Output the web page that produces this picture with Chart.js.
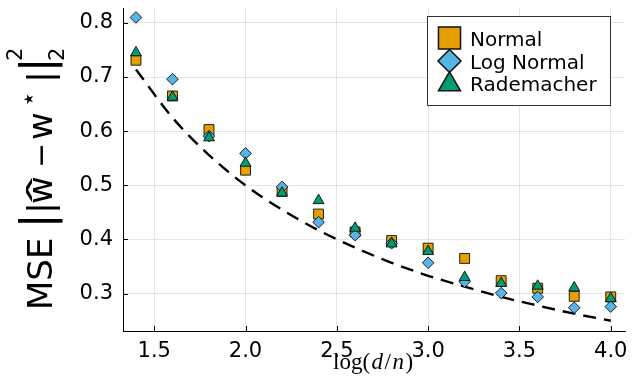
<!DOCTYPE html>
<html>
<head>
<meta charset="utf-8">
<script src="https://cdn.jsdelivr.net/npm/chart.js@4.4.0/dist/chart.umd.min.js"></script>
<style>
  html, body { margin: 0; padding: 0; background: #fff; }
  #wrap { width: 633px; height: 385px; }
</style>
</head>
<body>
<div id="wrap"><canvas id="c" width="633" height="385"></canvas></div>
<script>
// ---- data ----
const logDN = [1.4, 1.6, 1.8, 2.0, 2.2, 2.4, 2.6, 2.8, 3.0, 3.2, 3.4, 3.6, 3.8, 4.0];
const normalMSE = [0.731, 0.665, 0.603, 0.528, 0.489, 0.447, 0.414, 0.398, 0.384, 0.365, 0.324, 0.310, 0.295, 0.294];
const logNormalMSE = [0.810, 0.696, 0.591, 0.559, 0.497, 0.432, 0.408, 0.393, 0.357, 0.322, 0.301, 0.294, 0.274, 0.276];
const rademacherMSE = [0.745, 0.663, 0.588, 0.541, 0.486, 0.472, 0.421, 0.392, 0.378, 0.330, 0.319, 0.314, 0.311, 0.291];
const theoryMSE = [0.714, 0.625, 0.556, 0.500, 0.455, 0.417, 0.385, 0.357, 0.333, 0.313, 0.294, 0.278, 0.263, 0.250];
const seriesNames = ['Normal', 'Log Normal', 'Rademacher'];
const xTicks = [1.5, 2.0, 2.5, 3.0, 3.5, 4.0];
const xTickLabels = ['1.5', '2.0', '2.5', '3.0', '3.5', '4.0'];
const yTicks = [0.3, 0.4, 0.5, 0.6, 0.7, 0.8];
const yTickLabels = ['0.3', '0.4', '0.5', '0.6', '0.7', '0.8'];

const pts = (ys) => logDN.map((x, i) => ({ x: x, y: ys[i] }));
const COLORS = ['#E69F00', '#56B4E9', '#009E73'];
const STYLES = ['rect', 'rectRot', 'triangle'];
const RADII = [7, 5.8, 6.3];
const EDGE = 'rgba(0,0,0,0.85)';

function markerPath(ctx, style, x, y, r) {
  ctx.beginPath();
  if (style === 'rect') {
    const s = Math.SQRT1_2 * r;
    ctx.rect(x - s, y - s, 2 * s, 2 * s);
  } else if (style === 'rectRot') {
    ctx.moveTo(x, y - r); ctx.lineTo(x + r, y); ctx.lineTo(x, y + r); ctx.lineTo(x - r, y);
    ctx.closePath();
  } else {
    const a = -Math.PI / 2;
    for (let k = 0; k < 3; k++) {
      const t = a + k * 2 * Math.PI / 3;
      const px = x + Math.cos(t) * r, py = y + Math.sin(t) * r;
      if (k === 0) ctx.moveTo(px, py); else ctx.lineTo(px, py);
    }
    ctx.closePath();
  }
}

function noPad(s) {
  s.paddingTop = 0; s.paddingBottom = 0; s.paddingLeft = 0; s.paddingRight = 0;
}

const decorations = {
  id: 'decorations',
  afterDraw(chart) {
    const ctx = chart.ctx;
    const xs = chart.scales.x, ys = chart.scales.y;
    const area = chart.chartArea;
    ctx.save();
    // inward tick marks
    ctx.strokeStyle = '#000';
    ctx.lineWidth = 1;
    xs.ticks.forEach(t => {
      const px = Math.round(xs.getPixelForValue(t.value)) + 0.5;
      ctx.beginPath(); ctx.moveTo(px, area.bottom); ctx.lineTo(px, area.bottom - 5); ctx.stroke();
    });
    ys.ticks.forEach(t => {
      const py = Math.round(ys.getPixelForValue(t.value)) + 0.5;
      ctx.beginPath(); ctx.moveTo(area.left, py); ctx.lineTo(area.left + 5, py); ctx.stroke();
    });

    // legend
    const lx = 427.5, ly = 16.5, lw = 183, lh = 89;
    ctx.fillStyle = '#fff';
    ctx.fillRect(lx, ly, lw, lh);
    ctx.strokeStyle = '#333';
    ctx.lineWidth = 1;
    ctx.strokeRect(lx, ly, lw, lh);
    const rows = [
      { cy: 38, r: 15.6, base: 46 },
      { cy: 61, r: 11.5, base: 68.5 },
      { cy: 84.5, r: 12.7, base: 91 }
    ];
    ctx.font = '20px "DejaVu Sans"';
    ctx.textAlign = 'left';
    ctx.textBaseline = 'alphabetic';
    seriesNames.forEach((name, i) => {
      const row = rows[i];
      markerPath(ctx, STYLES[i], 449.5, row.cy, row.r);
      ctx.fillStyle = COLORS[i];
      ctx.fill();
      ctx.strokeStyle = '#111';
      ctx.lineWidth = 1.5;
      ctx.stroke();
      ctx.fillStyle = '#000';
      ctx.fillText(name, 470, row.base);
    });

    // y axis title: MSE ||ŵ − w⋆||²₂ (rotated)
    ctx.save();
    ctx.translate(52, 310);
    ctx.rotate(-Math.PI / 2);
    ctx.fillStyle = '#000';
    ctx.textAlign = 'left';
    ctx.textBaseline = 'alphabetic';
    const big = '34px "DejaVu Sans"', tall = '45px "DejaVu Sans"', small = '21px "DejaVu Sans"';
    const pieces = [
      ['MSE', big, 0, 0],
      ['|', tall, 81.4, 0],
      ['|', big, 96.3, 0],
      ['w', big, 106, 0],
      ['−', '30px "DejaVu Sans"', 142, -1],
      ['w', big, 170, 0],
      ['★', '13px "DejaVu Sans"', 205, -19],
      ['|', big, 227.3, 0],
      ['|', tall, 237.4, 0],
      ['2', small, 249, -30],
      ['2', small, 249, 12]
    ];
    pieces.forEach(p => { ctx.font = p[1]; ctx.fillText(p[0], p[2], p[3]); });
    // wide hat over the first w
    ctx.save();
    ctx.translate(120, 1);
    ctx.scale(2.3, 1);
    ctx.font = '34px "DejaVu Sans"';
    ctx.textAlign = 'center';
    ctx.fillText('ˆ', 0, 0);
    ctx.restore();
    ctx.restore();

    // x axis title: log(d/n)
    const serif = '"Liberation Serif", "DejaVu Serif", serif';
    const xparts = [
      ['log(', '23px ' + serif],
      ['d', 'italic 23px ' + serif],
      ['/', '23px ' + serif],
      ['n', 'italic 23px ' + serif],
      [')', '23px ' + serif]
    ];
    let tx = 333;
    ctx.fillStyle = '#000';
    xparts.forEach(p => {
      ctx.font = p[1];
      ctx.fillText(p[0], tx, 369);
      tx += ctx.measureText(p[0]).width + 1.5;
    });
    ctx.restore();
  }
};

new Chart(document.getElementById('c'), {
  type: 'scatter',
  data: {
    datasets: [
      {
        label: 'theory', type: 'line', data: pts(theoryMSE), order: 4,
        borderColor: '#000', borderWidth: 2.4, borderDash: [13, 8],
        pointRadius: 0, fill: false, cubicInterpolationMode: 'monotone', showLine: true
      },
      {
        label: seriesNames[0], data: pts(normalMSE), order: 3,
        pointStyle: STYLES[0], pointRadius: RADII[0], backgroundColor: COLORS[0],
        borderColor: EDGE, borderWidth: 1
      },
      {
        label: seriesNames[1], data: pts(logNormalMSE), order: 2,
        pointStyle: STYLES[1], pointRadius: RADII[1], backgroundColor: COLORS[1],
        borderColor: EDGE, borderWidth: 1
      },
      {
        label: seriesNames[2], data: pts(rademacherMSE), order: 1,
        pointStyle: STYLES[2], pointRadius: RADII[2], backgroundColor: COLORS[2],
        borderColor: EDGE, borderWidth: 1
      }
    ]
  },
  options: {
    responsive: false,
    animation: false,
    events: [],
    layout: { padding: { top: 5, right: 6, left: 0, bottom: 0 } },
    plugins: { legend: { display: false }, tooltip: { enabled: false } },
    scales: {
      x: {
        type: 'linear', min: 1.329, max: 4.078,
        afterBuildTicks: s => { s.ticks = xTicks.map(v => ({ value: v })); },
        afterFit: s => { s.height = 54; noPad(s); },
        grid: { color: 'rgba(0,0,0,0.1)', lineWidth: 1, drawTicks: false },
        border: { display: true, color: '#000', width: 1 },
        ticks: {
          padding: 8, color: '#000', maxRotation: 0, autoSkip: false,
          font: { family: 'DejaVu Sans', size: 21 },
          callback: (v, i) => xTickLabels[i]
        }
      },
      y: {
        type: 'linear', min: 0.231, max: 0.8275,
        afterBuildTicks: s => { s.ticks = yTicks.map(v => ({ value: v })); },
        afterFit: s => { s.width = 123; noPad(s); },
        grid: { color: 'rgba(0,0,0,0.1)', lineWidth: 1, drawTicks: false },
        border: { display: true, color: '#000', width: 1 },
        ticks: {
          padding: 10, color: '#000', autoSkip: false,
          font: { family: 'DejaVu Sans', size: 21 },
          callback: (v, i) => yTickLabels[i]
        }
      }
    }
  },
  plugins: [decorations]
});
</script>
</body>
</html>
